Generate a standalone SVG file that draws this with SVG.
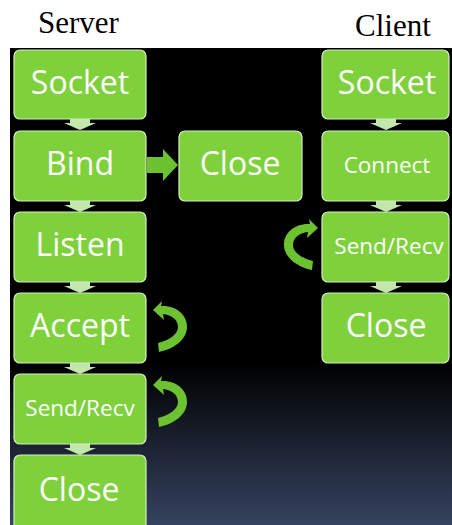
<svg xmlns="http://www.w3.org/2000/svg" width="452" height="525" viewBox="0 0 452 525">
<defs>
<linearGradient id="bg" x1="0" y1="48" x2="0" y2="525" gradientUnits="userSpaceOnUse">
<stop offset="0" stop-color="#000000"/>
<stop offset="0.66" stop-color="#000000"/>
<stop offset="1" stop-color="#36435f"/>
</linearGradient>
<path id="down" d="M-10,-6 L10,-6 L10,-2 L16,-2 L0,5 L-16,-2 L-10,-2 Z"/>
<path id="curve" d="M0,0 L9,-9 L8,-4 C23,-5 35,5 34,18 C33,30 21,39 6,42 L5,33 C17,30 25,24 25,17 C25,10 19,5 10,4 L11,10 Z"/>
</defs>
<style>
.box{fill:#7ed13b;stroke:#d6edc6;stroke-width:1.2}
.big{font-family:"Open Sans","Liberation Sans",sans-serif;font-size:32px;fill:#ffffff;text-anchor:middle}
.small{font-family:"Open Sans","Liberation Sans",sans-serif;font-size:22.5px;fill:#ffffff;text-anchor:middle}
.hdr{font-family:"Liberation Serif",serif;font-size:31px;fill:#000000}
.dn{fill:#c3e6ad}
.arr{fill:#6cc231}
</style>
<rect x="0" y="0" width="452" height="525" fill="#ffffff"/>
<rect x="10" y="48" width="442" height="477" fill="url(#bg)"/>
<text class="hdr" x="38" y="33">Server</text>
<text class="hdr" x="355" y="36">Client</text>
<g id="connectors">
<use href="#down" class="dn" x="80" y="125"/>
<use href="#down" class="dn" x="80" y="207"/>
<use href="#down" class="dn" x="80" y="288"/>
<use href="#down" class="dn" x="80" y="369"/>
<use href="#down" class="dn" x="80" y="450"/>
<use href="#down" class="dn" x="386" y="125"/>
<use href="#down" class="dn" x="386" y="207"/>
<use href="#down" class="dn" x="386" y="288"/>
<path class="arr" d="M147,157 L163,157 L163,149 L178,165 L163,181 L163,173 L147,173 Z"/>
<use href="#curve" class="arr" transform="translate(153,310)"/>
<use href="#curve" class="arr" transform="translate(153,385)"/>
<use href="#curve" class="arr" transform="translate(318,228) scale(-1,1)"/>
</g>
<g id="s-socket"><rect class="box" x="14" y="50" width="132" height="69" rx="6"/><text class="big" x="80" y="94">Socket</text></g>
<g id="s-bind"><rect class="box" x="14" y="131" width="132" height="70" rx="6"/><text class="big" x="80" y="175">Bind</text></g>
<g id="s-listen"><rect class="box" x="14" y="212" width="132" height="70" rx="6"/><text class="big" x="80" y="256">Listen</text></g>
<g id="s-accept"><rect class="box" x="14" y="293" width="132" height="70" rx="6"/><text class="big" x="80" y="337">Accept</text></g>
<g id="s-sendrecv"><rect class="box" x="14" y="374" width="132" height="70" rx="6"/><text class="small" x="80" y="416">Send/Recv</text></g>
<g id="s-close"><rect class="box" x="14" y="455" width="132" height="75" rx="6"/><text class="big" x="79" y="501">Close</text></g>
<g id="b-close"><rect class="box" x="179" y="131" width="123" height="70" rx="6"/><text class="big" x="240" y="175">Close</text></g>
<g id="c-socket"><rect class="box" x="322" y="50" width="127" height="69" rx="6"/><text class="big" x="387" y="94">Socket</text></g>
<g id="c-connect"><rect class="box" x="322" y="131" width="127" height="70" rx="6"/><text class="small" x="387" y="173">Connect</text></g>
<g id="c-sendrecv"><rect class="box" x="322" y="212" width="127" height="70" rx="6"/><text class="small" x="389" y="254">Send/Recv</text></g>
<g id="c-close"><rect class="box" x="322" y="293" width="127" height="70" rx="6"/><text class="big" x="386" y="337">Close</text></g>
</svg>
